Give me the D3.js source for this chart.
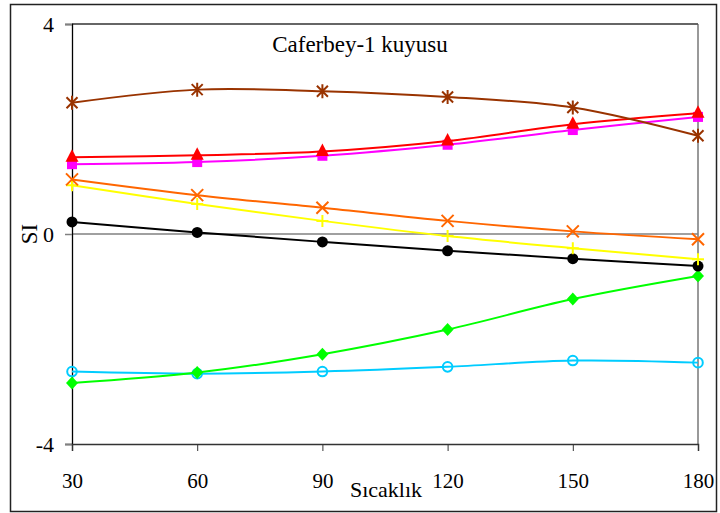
<!DOCTYPE html>
<html>
<head>
<meta charset="utf-8">
<script src="https://cdn.jsdelivr.net/npm/d3@7"></script>
<style>
  html, body { margin: 0; padding: 0; background: #fff; }
  svg { display: block; }
  text { font-family: "Liberation Serif", "Times New Roman", serif; fill: #000; }
</style>
</head>
<body>
<svg id="chart" width="720" height="513"></svg>
<script>
// Temperature steps (°C)
const temperatures = [30, 60, 90, 120, 150, 180];
const yTicks = [-4, 0, 4];

// Saturation index per mineral
const seriesBrown   = [2.50, 2.75, 2.72, 2.61, 2.41, 1.87];
const seriesRed     = [1.46, 1.50, 1.57, 1.77, 2.09, 2.30];
const seriesMagenta = [1.33, 1.37, 1.49, 1.70, 1.98, 2.23];
const seriesOrange  = [1.04, 0.74, 0.50, 0.25, 0.05, -0.10];
const seriesYellow  = [0.93, 0.57, 0.25, -0.04, -0.27, -0.48];
const seriesBlack   = [0.23, 0.03, -0.15, -0.32, -0.47, -0.61];
const seriesGreen   = [-2.84, -2.64, -2.29, -1.82, -1.24, -0.80];
const seriesCyan    = [-2.62, -2.66, -2.62, -2.53, -2.41, -2.45];

const series = [
  { values: seriesCyan,    color: "#00CCFF", marker: "openCircle" },
  { values: seriesGreen,   color: "#00FF00", marker: "diamond" },
  { values: seriesBlack,   color: "#000000", marker: "circle" },
  { values: seriesYellow,  color: "#FFFF00", marker: "plus" },
  { values: seriesOrange,  color: "#FF6600", marker: "cross" },
  { values: seriesMagenta, color: "#FF00FF", marker: "square" },
  { values: seriesRed,     color: "#FF0000", marker: "triangle" },
  { values: seriesBrown,   color: "#993300", marker: "asterisk" }
];

const svg = d3.select("#chart");
const plot = { left: 72, right: 698, top: 24, bottom: 444 };

const x = d3.scaleLinear().domain([30, 180]).range([plot.left, plot.right]);
const y = d3.scaleLinear().domain([-4, 4]).range([plot.bottom, plot.top]);

// Plain hyphen for negative tick values
const fmt = d => String(d);

// Outer frame
svg.append("rect")
  .attr("x", 10.5).attr("y", 4.5).attr("width", 706).attr("height", 507)
  .attr("fill", "none").attr("stroke", "#222").attr("stroke-width", 1.5);

// Plot area frame (top and right)
svg.append("line")
  .attr("x1", plot.left).attr("x2", plot.right).attr("y1", plot.top).attr("y2", plot.top)
  .attr("stroke", "#333").attr("stroke-width", 1.5);
svg.append("line")
  .attr("x1", plot.right).attr("x2", plot.right).attr("y1", plot.top).attr("y2", plot.bottom)
  .attr("stroke", "#555").attr("stroke-width", 1.2);

// Zero reference line
svg.append("line")
  .attr("x1", plot.left).attr("x2", plot.right).attr("y1", y(0)).attr("y2", y(0))
  .attr("stroke", "#808080").attr("stroke-width", 1.6);

// Y axis
const yAxis = svg.append("g")
  .attr("transform", `translate(${plot.left},0)`)
  .call(d3.axisLeft(y).tickValues(yTicks).tickFormat(fmt).tickSize(7).tickPadding(11));
yAxis.select(".domain").attr("stroke", "#000").attr("stroke-width", 1.3);
yAxis.selectAll(".tick line").attr("stroke", "#808080").attr("stroke-width", 1.5);
yAxis.selectAll(".tick text")
  .style("font-family", "'Liberation Serif', serif").style("font-size", "22px").attr("fill", "#000")
  .attr("dy", "0.34em");

// X axis
const xAxis = svg.append("g")
  .attr("transform", `translate(0,${plot.bottom})`)
  .call(d3.axisBottom(x).tickValues(temperatures).tickFormat(fmt).tickSize(7).tickPadding(22));
xAxis.select(".domain").attr("stroke", "#333").attr("stroke-width", 1.5);
xAxis.selectAll(".tick line").attr("stroke", "#333").attr("stroke-width", 1);
xAxis.selectAll(".tick text")
  .style("font-family", "'Liberation Serif', serif").style("font-size", "21px").attr("fill", "#000");

// Series lines (smoothed)
const line = d3.line()
  .x((d, i) => x(temperatures[i]))
  .y(d => y(d))
  .curve(d3.curveCatmullRom.alpha(0));

const groups = svg.append("g").selectAll("g").data(series).join("g");
groups.append("path")
  .attr("d", s => line(s.values))
  .attr("fill", "none")
  .attr("stroke", s => s.color)
  .attr("stroke-width", 2);

// Markers
function drawMarker(g, type, color, cx, cy) {
  const r = 6;
  if (type === "circle") {
    g.append("circle").attr("cx", cx).attr("cy", cy).attr("r", 5.5).attr("fill", color);
  } else if (type === "openCircle") {
    g.append("circle").attr("cx", cx).attr("cy", cy).attr("r", 4.8)
      .attr("fill", "none").attr("stroke", color).attr("stroke-width", 2);
  } else if (type === "diamond") {
    g.append("path").attr("d", `M${cx},${cy - 6.5}L${cx + 6},${cy}L${cx},${cy + 6.5}L${cx - 6},${cy}Z`).attr("fill", color);
  } else if (type === "square") {
    g.append("rect").attr("x", cx - 5).attr("y", cy - 5).attr("width", 10).attr("height", 10).attr("fill", color);
  } else if (type === "triangle") {
    g.append("path").attr("d", `M${cx},${cy - 8}L${cx + 6.5},${cy + 4.5}L${cx - 6.5},${cy + 4.5}Z`).attr("fill", color);
  } else if (type === "plus") {
    g.append("path").attr("d", `M${cx - r},${cy}H${cx + r}M${cx},${cy - r}V${cy + r}`)
      .attr("stroke", color).attr("stroke-width", 2);
  } else if (type === "cross") {
    g.append("path").attr("d", `M${cx - r},${cy - r}L${cx + r},${cy + r}M${cx - r},${cy + r}L${cx + r},${cy - r}`)
      .attr("stroke", color).attr("stroke-width", 2);
  } else if (type === "asterisk") {
    g.append("path").attr("d", `M${cx - 5.5},${cy - 5.5}L${cx + 5.5},${cy + 5.5}M${cx - 5.5},${cy + 5.5}L${cx + 5.5},${cy - 5.5}M${cx},${cy - 7}V${cy + 7}`)
      .attr("stroke", color).attr("stroke-width", 2);
  }
}

groups.each(function (s) {
  const g = d3.select(this);
  s.values.forEach((v, i) => drawMarker(g, s.marker, s.color, x(temperatures[i]), y(v)));
});

// Title and axis labels
svg.append("text")
  .attr("x", 360).attr("y", 52)
  .attr("text-anchor", "middle")
  .style("font-size", "23px")
  .text("Caferbey-1 kuyusu");

svg.append("text")
  .attr("x", 386).attr("y", 497)
  .attr("text-anchor", "middle")
  .style("font-size", "22px")
  .text("Sıcaklık");

svg.append("text")
  .attr("transform", "translate(37,234) rotate(-90)")
  .attr("text-anchor", "middle")
  .style("font-size", "23px")
  .text("SI");
</script>
</body>
</html>
